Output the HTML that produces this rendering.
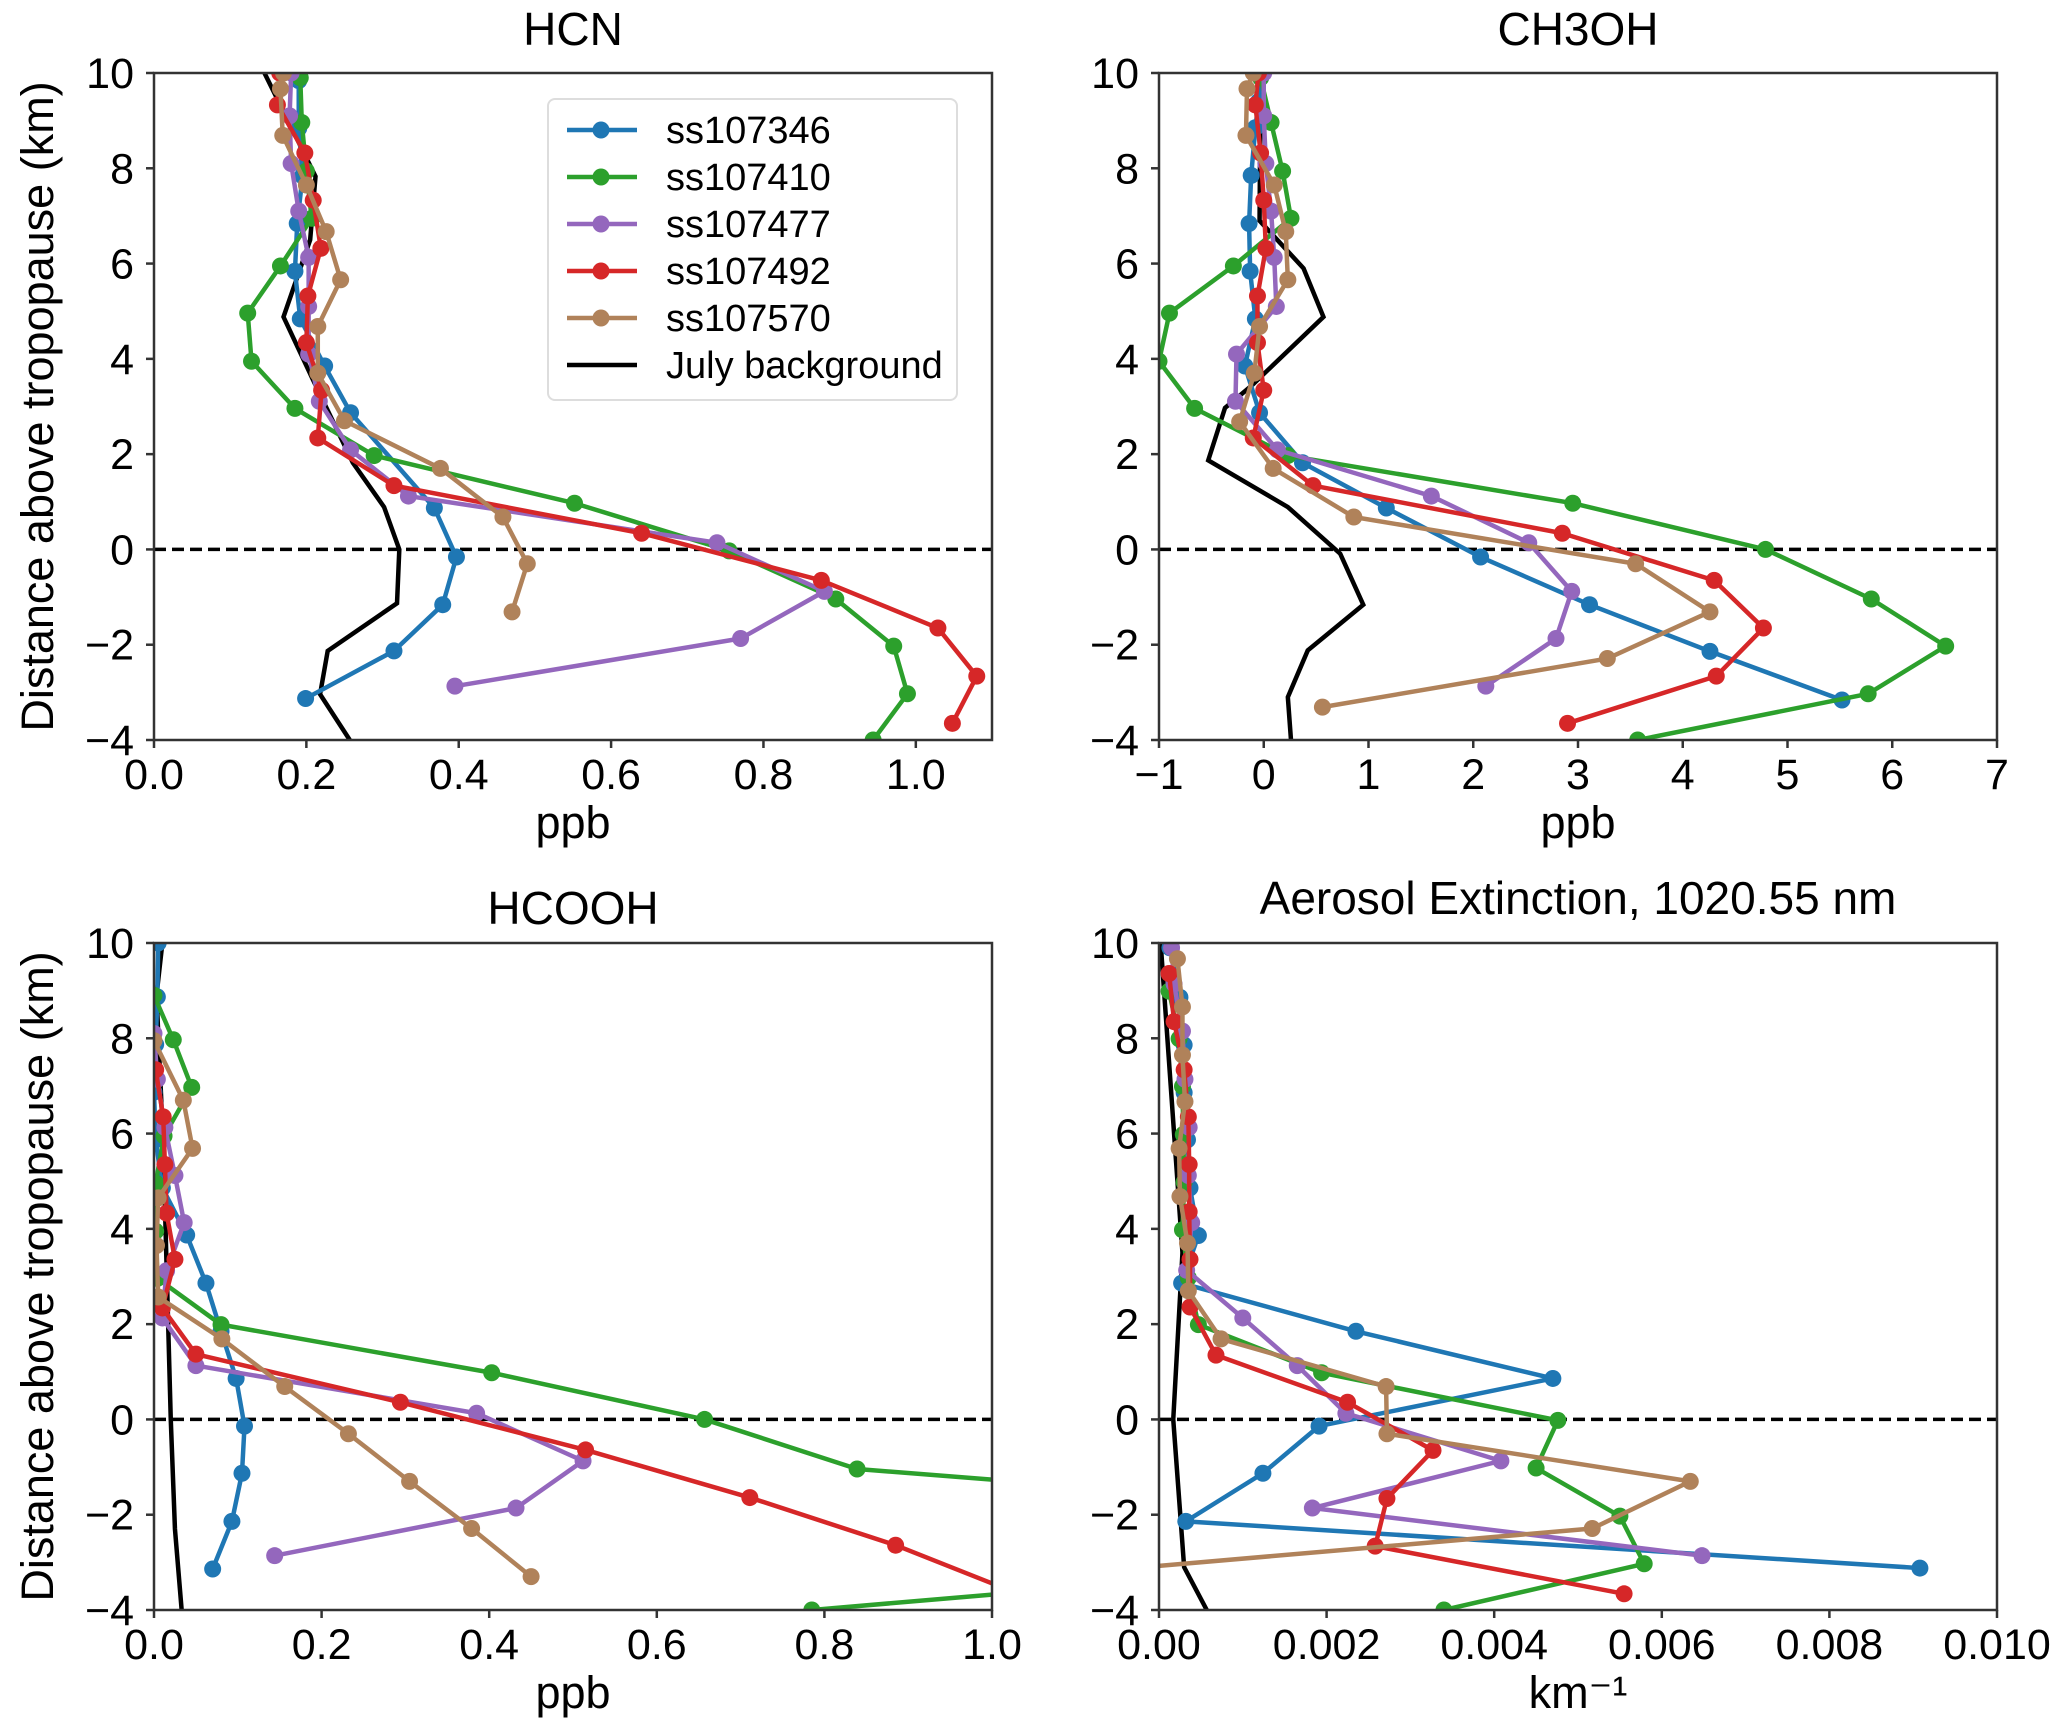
<!DOCTYPE html>
<html><head><meta charset="utf-8">
<style>
html,body{margin:0;padding:0;background:#fff;}
svg{display:block;font-family:"Liberation Sans",Arial,sans-serif;}
</style></head>
<body>
<svg id="fig" width="2067" height="1726" viewBox="0 0 2067 1726" xmlns="http://www.w3.org/2000/svg">
<rect width="2067" height="1726" fill="#fff"/>
</svg>
<script>
const seriesNames = ["ss107346","ss107410","ss107477","ss107492","ss107570"];
const seriesColors = ["#1f77b4","#2ca02c","#9467bd","#d62728","#b0825a"];

// ---- HCN (ppb) ----
const hcnBlueX = [0.199,0.315,0.379,0.397,0.368,0.258,0.224,0.192,0.185,0.188,0.195,0.19,0.19];
const hcnBlueY = [-3.13,-2.13,-1.16,-0.16,0.87,2.87,3.85,4.84,5.84,6.84,7.84,8.84,9.84];
const hcnGreenX = [0.944,0.989,0.971,0.895,0.755,0.552,0.289,0.185,0.128,0.123,0.166,0.207,0.200,0.194,0.192];
const hcnGreenY = [-4.0,-3.03,-2.03,-1.04,-0.03,0.97,1.97,2.96,3.95,4.96,5.95,6.95,7.94,8.96,9.9];
const hcnPurpleX = [0.395,0.77,0.88,0.739,0.334,0.258,0.217,0.203,0.203,0.203,0.19,0.18,0.178,0.18];
const hcnPurpleY = [-2.87,-1.87,-0.88,0.14,1.12,2.09,3.11,4.1,5.1,6.13,7.1,8.1,9.1,10];
const hcnRedX = [1.048,1.08,1.029,0.876,0.64,0.315,0.215,0.22,0.2,0.202,0.219,0.209,0.198,0.162,0.165];
const hcnRedY = [-3.65,-2.66,-1.65,-0.65,0.34,1.34,2.34,3.34,4.34,5.32,6.32,7.33,8.32,9.33,10];
const hcnBrownX = [0.47,0.49,0.458,0.376,0.25,0.215,0.215,0.245,0.226,0.2,0.169,0.166,0.17];
const hcnBrownY = [-1.31,-0.3,0.68,1.7,2.7,3.7,4.68,5.66,6.67,7.65,8.69,9.67,10];
const hcnBgX = [0.145,0.212,0.205,0.17,0.209,0.261,0.302,0.322,0.319,0.228,0.218,0.257];
const hcnBgY = [10,7.83,6.5,4.88,3.55,1.82,0.89,0,-1.13,-2.13,-3.04,-4];

// ---- CH3OH (ppb) ----
const mBlueX = [5.52,4.26,3.11,2.07,1.17,0.37,-0.04,-0.18,-0.08,-0.13,-0.14,-0.12,-0.08,-0.05,-0.03];
const mBlueY = [-3.16,-2.14,-1.16,-0.16,0.87,1.82,2.87,3.85,4.84,5.84,6.84,7.85,8.85,9.4,9.9];
const mGreenX = [3.57,5.77,6.51,5.8,4.79,2.95,0.23,-0.66,-1.0,-0.9,-0.29,0.26,0.18,0.07,-0.03];
const mGreenY = [-4.0,-3.03,-2.03,-1.04,0,0.97,1.97,2.96,3.95,4.96,5.95,6.95,7.94,8.96,9.9];
const mPurpleX = [2.12,2.79,2.94,2.53,1.6,0.13,-0.27,-0.26,0.12,0.1,0.07,0.02,0.0,0.0];
const mPurpleY = [-2.87,-1.87,-0.88,0.14,1.12,2.09,3.11,4.1,5.1,6.13,7.1,8.1,9.1,10];
const mRedX = [2.9,4.32,4.77,4.3,2.85,0.47,-0.1,0.0,-0.06,-0.06,0.02,0.0,-0.03,-0.08,-0.05];
const mRedY = [-3.65,-2.66,-1.65,-0.65,0.34,1.34,2.34,3.34,4.34,5.32,6.32,7.33,8.32,9.33,10];
const mBrownX = [0.56,3.28,4.26,3.55,0.86,0.09,-0.23,-0.09,-0.04,0.23,0.21,0.1,-0.17,-0.16,-0.1];
const mBrownY = [-3.31,-2.29,-1.31,-0.3,0.68,1.7,2.68,3.7,4.68,5.66,6.67,7.65,8.69,9.67,10];
const mBgX = [-0.03,-0.04,0.38,0.57,-0.12,-0.37,-0.53,0.23,0.73,0.95,0.42,0.23,0.26];
const mBgY = [10,6.9,5.9,4.88,3.43,2.97,1.87,0.89,-0.09,-1.16,-2.12,-3.1,-4];

// ---- HCOOH (ppb) ----
const fBlueX = [0.07,0.093,0.105,0.108,0.098,0.08,0.062,0.039,0.01,0.002,0.0,0.002,0.004,0.005];
const fBlueY = [-3.14,-2.14,-1.13,-0.14,0.86,1.85,2.86,3.87,4.86,5.87,6.87,7.87,8.87,10];
const fGreenX = [0.785,1.43,1.55,0.839,0.657,0.403,0.08,0.004,0.002,0.002,0.012,0.045,0.023,0.0];
const fGreenY = [-4.0,-3.03,-2.03,-1.04,0,0.98,1.99,2.96,3.95,4.96,5.95,6.97,7.97,8.9];
const fPurpleX = [0.144,0.432,0.512,0.385,0.05,0.01,0.015,0.036,0.025,0.013,0.004,0.0];
const fPurpleY = [-2.86,-1.86,-0.87,0.13,1.13,2.13,3.12,4.13,5.12,6.13,7.14,8.1];
const fRedX = [1.03,0.885,0.711,0.515,0.294,0.05,0.01,0.025,0.015,0.013,0.011,0.002];
const fRedY = [-3.65,-2.64,-1.64,-0.64,0.36,1.37,2.34,3.36,4.33,5.35,6.35,7.34];
const fBrownX = [0.45,0.379,0.305,0.232,0.156,0.081,0.005,0.003,0.005,0.046,0.035,0.0];
const fBrownY = [-3.3,-2.29,-1.3,-0.3,0.69,1.69,2.57,3.65,4.65,5.69,6.7,7.95];
const fBgX = [0.01,0.003,0.011,0.02,0.025,0.033];
const fBgY = [10,8.9,5.8,0,-2.3,-4];

// ---- Aerosol extinction (km^-1) ----
const aBlueX = [0.00908,0.00032,0.00124,0.00191,0.0047,0.00235,0.00027,0.00047,0.00037,0.00034,0.0003,0.0003,0.00025,0.00013];
const aBlueY = [-3.12,-2.14,-1.13,-0.14,0.86,1.85,2.86,3.86,4.86,5.87,6.86,7.86,8.86,9.9];
const aGreenX = [0.0034,0.00579,0.0055,0.0045,0.00476,0.00194,0.00047,0.00035,0.00028,0.0003,0.00029,0.00028,0.00024,0.00012];
const aGreenY = [-4.0,-3.03,-2.03,-1.02,-0.02,0.98,1.99,2.97,3.98,4.98,5.98,6.99,7.99,8.99];
const aPurpleX = [0.00648,0.00183,0.00408,0.00223,0.00165,0.001,0.00033,0.00039,0.00035,0.00036,0.00031,0.00028,0.00018,0.00015];
const aPurpleY = [-2.86,-1.86,-0.87,0.13,1.13,2.13,3.13,4.13,5.12,6.13,7.14,8.15,9.14,9.9];
const aRedX = [0.00555,0.00258,0.00272,0.00327,0.00225,0.00068,0.00037,0.00037,0.00036,0.00036,0.00035,0.0003,0.00018,0.00012];
const aRedY = [-3.66,-2.66,-1.66,-0.65,0.36,1.35,2.36,3.36,4.36,5.35,6.35,7.34,8.35,9.36];
const aBrownX = [-0.0015,0.00517,0.00634,0.00272,0.00271,0.00074,0.00035,0.00034,0.00025,0.00024,0.00031,0.00028,0.00028,0.00022];
const aBrownY = [-3.3,-2.29,-1.3,-0.3,0.69,1.69,2.7,3.7,4.68,5.69,6.67,7.65,8.66,9.67];
const aBgX = [0.00002,0.00028,0.00017,0.0003,0.00057];
const aBgY = [10,3.5,0,-3.1,-4];

const yTicks = [10,8,6,4,2,0,-2,-4];
const hcnXTicks = [0,0.2,0.4,0.6,0.8,1.0];
const hcnXLabels = ["0.0","0.2","0.4","0.6","0.8","1.0"];
const mXTicks = [-1,0,1,2,3,4,5,6,7];
const mXLabels = ["\u22121","0","1","2","3","4","5","6","7"];
const fXTicks = [0,0.2,0.4,0.6,0.8,1.0];
const fXLabels = ["0.0","0.2","0.4","0.6","0.8","1.0"];
const aXTicks = [0,0.002,0.004,0.006,0.008,0.010];
const aXLabels = ["0.00","0.002","0.004","0.006","0.008","0.010"];

const NS = "http://www.w3.org/2000/svg";
const svg = document.getElementById('fig');
function mk(tag, attrs, parent){
  const e = document.createElementNS(NS, tag);
  for (const k in attrs) e.setAttribute(k, attrs[k]);
  (parent||svg).appendChild(e);
  return e;
}
function txt(s, attrs, parent){ const e = mk('text', attrs, parent); e.textContent = s; return e; }

const panels = [
  {id:'hcn', title:'HCN', x0:154, y0:73, xmin:0, xmax:1.1, xt:hcnXTicks, xl:hcnXLabels, xlabel:'ppb', ylabel:true,
   s:[[hcnBlueX,hcnBlueY],[hcnGreenX,hcnGreenY],[hcnPurpleX,hcnPurpleY],[hcnRedX,hcnRedY],[hcnBrownX,hcnBrownY]], bg:[hcnBgX,hcnBgY], legend:true, tb:45},
  {id:'ch3oh', title:'CH3OH', x0:1159, y0:73, xmin:-1, xmax:7, xt:mXTicks, xl:mXLabels, xlabel:'ppb', ylabel:false,
   s:[[mBlueX,mBlueY],[mGreenX,mGreenY],[mPurpleX,mPurpleY],[mRedX,mRedY],[mBrownX,mBrownY]], bg:[mBgX,mBgY], tb:45},
  {id:'hcooh', title:'HCOOH', x0:154, y0:943, xmin:0, xmax:1.0, xt:fXTicks, xl:fXLabels, xlabel:'ppb', ylabel:true,
   s:[[fBlueX,fBlueY],[fGreenX,fGreenY],[fPurpleX,fPurpleY],[fRedX,fRedY],[fBrownX,fBrownY]], bg:[fBgX,fBgY], tb:924},
  {id:'aerosol', title:'Aerosol Extinction, 1020.55 nm', x0:1159, y0:943, xmin:0, xmax:0.010, xt:aXTicks, xl:aXLabels, xlabel:'km\u207B\u00B9', ylabel:false,
   s:[[aBlueX,aBlueY],[aGreenX,aGreenY],[aPurpleX,aPurpleY],[aRedX,aRedY],[aBrownX,aBrownY]], bg:[aBgX,aBgY], tb:914}
];
const W = 838, H = 667, FS = 43;

panels.forEach((p, pi) => {
  const g = mk('g', {});
  
  
  const sx = v => p.x0 + (v - p.xmin) / (p.xmax - p.xmin) * W;
  const sy = v => p.y0 + (10 - v) / 14 * H;
  const cp = mk('clipPath', {id:'clip'+pi}, g);
  mk('rect', {x:p.x0, y:p.y0, width:W, height:H}, cp);
  const plot = mk('g', {'clip-path':'url(#clip'+pi+')'}, g);
  const dl = mk('line', {x1:p.x0, x2:p.x0+W, y1:sy(0), y2:sy(0), stroke:'#000', 'stroke-width':3.5, 'stroke-dasharray':'12,6'}, plot);
  
  
  const bgp = mk('polyline', {points:p.bg[0].map((v,i)=>sx(v)+','+sy(p.bg[1][i])).join(' '), fill:'none', stroke:'#000', 'stroke-width':4.5}, plot);
  
  
  p.s.forEach((s, si) => {
    const sg = mk('g', {}, plot);
    
    
    mk('polyline', {points:s[0].map((v,i)=>sx(v)+','+sy(s[1][i])).join(' '), fill:'none', stroke:seriesColors[si], 'stroke-width':4.5, 'stroke-linejoin':'round'}, sg);
    s[0].forEach((v,i) => {
      const c = mk('circle', {cx:sx(v), cy:sy(s[1][i]), r:8.5, fill:seriesColors[si]}, sg);
      
      
    });
  });
  const fr = mk('rect', {x:p.x0, y:p.y0, width:W, height:H, fill:'none', stroke:'#333', 'stroke-width':2.5}, g);
  
  
  yTicks.forEach(t => {
    mk('line', {x1:p.x0-8, x2:p.x0, y1:sy(t), y2:sy(t), stroke:'#333', 'stroke-width':2.5}, g);
    const lab = txt(t<0 ? '\u2212'+Math.abs(t) : String(t), {x:p.x0-20, y:sy(t)+15, 'font-size':FS, 'text-anchor':'end', fill:'#000'}, g);
    
    
  });
  p.xt.forEach((t, i) => {
    mk('line', {x1:sx(t), x2:sx(t), y1:p.y0+H, y2:p.y0+H+8, stroke:'#333', 'stroke-width':2.5}, g);
    const lab = txt(p.xl[i], {x:sx(t), y:p.y0+H+49, 'font-size':FS, 'text-anchor':'middle', fill:'#000'}, g);
    
    
  });
  const xt = txt(p.xlabel, {x:p.x0+W/2, y:p.y0+H+98, 'font-size':FS+2, 'text-anchor':'middle', fill:'#000'}, g);
  
  
  const tt = txt(p.title, {x:p.x0+W/2, y:p.tb, 'font-size':46, 'text-anchor':'middle', fill:'#000'}, g);
  
  
  if (p.ylabel) {
    const yl = txt('Distance above tropopause (km)', {x:0, y:0, 'font-size':45, 'text-anchor':'middle', fill:'#000', transform:'translate(53,'+(p.y0+H/2)+') rotate(-90)'}, g);
    
    
  }
  if (p.legend) {
    const lg = mk('g', {}, g);
    
    
    mk('rect', {x:548, y:99, width:409, height:301, rx:7, fill:'#fff', stroke:'#ddd', 'stroke-width':2}, lg);
    const names = seriesNames.concat(['July background']);
    const cols = seriesColors.concat(['#000']);
    names.forEach((n, i) => {
      const yy = 130 + i*47;
      const e = mk('g', {}, lg);
      
      
      mk('line', {x1:567, x2:637, y1:yy, y2:yy, stroke:cols[i], 'stroke-width':4.5}, e);
      if (i < 5) mk('circle', {cx:601, cy:yy, r:8.5, fill:cols[i]}, e);
      txt(n, {x:666, y:yy+13, 'font-size':38, fill:'#000'}, e);
    });
  }
});
</script>
</body></html>
